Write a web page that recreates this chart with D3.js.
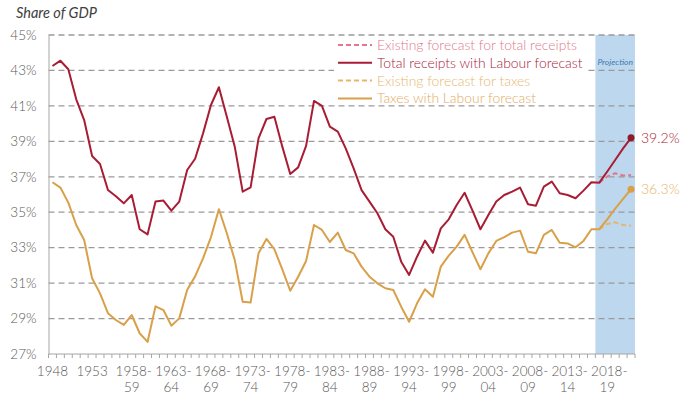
<!DOCTYPE html>
<html>
<head>
<meta charset="utf-8">
<script src="https://cdn.jsdelivr.net/npm/d3@7"></script>
<style>
  body { margin: 0; background: #fff; }
  svg { display: block; font-family: Lato, "DejaVu Sans", sans-serif; }
</style>
</head>
<body>
<div id="chart"></div>
<script>
// financial years shown on the x axis
var years = ["1948", "1949", "1950", "1951", "1952", "1953", "1954", "1955", "1956", "1957",
    "1958-59", "1959-60", "1960-61", "1961-62", "1962-63", "1963-64", "1964-65", "1965-66", "1966-67", "1967-68",
    "1968-69", "1969-70", "1970-71", "1971-72", "1972-73", "1973-74", "1974-75", "1975-76", "1976-77", "1977-78",
    "1978-79", "1979-80", "1980-81", "1981-82", "1982-83", "1983-84", "1984-85", "1985-86", "1986-87", "1987-88",
    "1988-89", "1989-90", "1990-91", "1991-92", "1992-93", "1993-94", "1994-95", "1995-96", "1996-97", "1997-98",
    "1998-99", "1999-00", "2000-01", "2001-02", "2002-03", "2003-04", "2004-05", "2005-06", "2006-07", "2007-08",
    "2008-09", "2009-10", "2010-11", "2011-12", "2012-13", "2013-14", "2014-15", "2015-16", "2016-17", "2017-18",
    "2018-19", "2019-20", "2020-21", "2021-22"];

var tickYears = ["1948", "1953", "1958-59", "1963-64", "1968-69", "1973-74", "1978-79", "1983-84",
    "1988-89", "1993-94", "1998-99", "2003-04", "2008-09", "2013-14", "2018-19"];

var yTicks = [27, 29, 31, 33, 35, 37, 39, 41, 43, 45];

// total receipts, % of GDP (history up to 2017-18)
var receipts = [43.25, 43.55, 43.07, 41.37, 40.2, 38.17, 37.72, 36.25, 35.9, 35.5,
    35.97, 34.04, 33.75, 35.6, 35.66, 35.09, 35.6, 37.38, 38.02, 39.45,
    41.05, 42.05, 40.39, 38.7, 36.16, 36.4, 39.17, 40.26, 40.39, 38.7,
    37.16, 37.53, 38.74, 41.28, 41.0, 39.83, 39.55, 38.6, 37.47, 36.25,
    35.6, 34.94, 34.04, 33.62, 32.21, 31.46, 32.49, 33.4, 32.72, 34.09,
    34.6, 35.41, 36.1, 35.09, 34.04, 34.84, 35.6, 35.97, 36.16, 36.39,
    35.45, 35.37, 36.44, 36.73, 36.07, 35.97, 35.79, 36.22, 36.69, 36.67];

// taxes, % of GDP (history up to 2017-18)
var taxes = [36.69, 36.39, 35.54, 34.28, 33.43, 31.27, 30.42, 29.3, 28.92, 28.64,
    29.2, 28.17, 27.68, 29.69, 29.48, 28.6, 29.01, 30.63, 31.38, 32.4,
    33.6, 35.17, 33.81, 32.3, 29.95, 29.9, 32.68, 33.49, 32.91, 31.78,
    30.57, 31.36, 32.25, 34.28, 34.0, 33.32, 33.85, 32.87, 32.68, 31.93,
    31.36, 30.99, 30.71, 30.61, 29.67, 28.82, 29.86, 30.65, 30.23, 31.93,
    32.55, 33.06, 33.72, 32.74, 31.78, 32.68, 33.38, 33.59, 33.85, 33.96,
    32.77, 32.68, 33.72, 34.0, 33.28, 33.24, 33.02, 33.38, 34.04, 34.04];

// projections, 2017-18 to 2021-22
var receiptsExisting = [36.67, 37.02, 37.2, 37.07, 37.1];
var receiptsLabour = [36.67, 37.3, 37.95, 38.6, 39.2];
var taxesExisting = [34.04, 34.34, 34.43, 34.28, 34.24];
var taxesLabour = [34.04, 34.6, 35.2, 35.75, 36.3];

var w = 682;
var h = 397;
var padLeft = 48.5, padRight = 635, padTop = 35, padBottom = 354;

var red = "#a81d33";
var redLight = "#e2778b";
var gold = "#d9a04a";
var goldLight = "#e6b56a";

var svg = d3.select("#chart").append("svg").attr("width", w).attr("height", h);

var xScale = d3.scaleBand().domain(years).range([padLeft, padRight]).padding(0);
var yScale = d3.scaleLinear().domain([27, 45]).range([padBottom, padTop]);

function cx(d) { return xScale(d) + xScale.bandwidth() / 2; }

// projection shading
var projStart = years.length - receiptsLabour.length;
svg.append("rect")
    .attr("x", xScale(years[projStart]))
    .attr("y", padTop)
    .attr("width", padRight - xScale(years[projStart]))
    .attr("height", padBottom - padTop)
    .attr("fill", "#bdd7ee");

svg.append("text")
    .attr("x", (xScale(years[projStart]) + padRight) / 2)
    .attr("y", 65)
    .attr("text-anchor", "middle")
    .attr("font-size", "8.5px")
    .attr("font-style", "italic")
    .attr("fill", "#3f77b0")
    .text("Projection");

// gridlines
svg.append("g").selectAll("line")
    .data(yTicks.slice(1))
    .enter()
    .append("line")
    .attr("x1", padLeft)
    .attr("x2", padRight)
    .attr("y1", function (d) { return yScale(d); })
    .attr("y2", function (d) { return yScale(d); })
    .attr("stroke", "#9a9a9a")
    .attr("stroke-width", 1.3)
    .attr("stroke-dasharray", "6,4");

// y axis
var yAxis = d3.axisLeft(yScale).tickValues(yTicks).tickSize(0).tickPadding(12)
    .tickFormat(function (d) { return d + "%"; });
var gy = svg.append("g").attr("transform", "translate(" + padLeft + ",0)").call(yAxis);
gy.select(".domain").attr("stroke", "#a6a6a6");
gy.selectAll("text").attr("font-size", "13.5px").attr("fill", "#595959")
    .attr("font-family", "Lato, sans-serif").attr("font-weight", 300);

// x axis: ticks on the band edges, labels every fifth year
var gx = svg.append("g");
gx.append("line")
    .attr("x1", padLeft).attr("x2", padRight)
    .attr("y1", padBottom).attr("y2", padBottom)
    .attr("stroke", "#a6a6a6");
gx.selectAll("line.tick")
    .data(years.concat(["end"]))
    .enter()
    .append("line")
    .attr("class", "tick")
    .attr("x1", function (d) { return d === "end" ? padRight : xScale(d); })
    .attr("x2", function (d) { return d === "end" ? padRight : xScale(d); })
    .attr("y1", padBottom)
    .attr("y2", padBottom + 4)
    .attr("stroke", "#a6a6a6");

var labels = gx.selectAll("text")
    .data(tickYears)
    .enter()
    .append("text")
    .attr("text-anchor", "middle")
    .attr("font-size", "13.5px")
    .attr("font-weight", 300)
    .attr("fill", "#595959");
labels.each(function (d) {
    var t = d3.select(this);
    var parts = d.split("-");
    if (parts.length === 1) {
        t.append("tspan").attr("x", cx(d)).attr("y", 376).text(d);
    } else {
        t.append("tspan").attr("x", cx(d) + 2).attr("y", 376).text(parts[0] + "-");
        t.append("tspan").attr("x", cx(d)).attr("y", 392).text(parts[1]);
    }
});

// lines
var line = d3.line()
    .x(function (d) { return cx(d.year); })
    .y(function (d) { return yScale(d.value); });

function toPoints(values, offset) {
    return values.map(function (v, i) { return { year: years[offset + i], value: v }; });
}

var series = [
    { pts: toPoints(receiptsExisting, projStart), color: redLight, dash: "5,3" },
    { pts: toPoints(taxesExisting, projStart), color: goldLight, dash: "5,3" },
    { pts: toPoints(taxes, 0).concat(toPoints(taxesLabour, projStart).slice(1)), color: gold, dash: null },
    { pts: toPoints(receipts, 0).concat(toPoints(receiptsLabour, projStart).slice(1)), color: red, dash: null }
];

svg.append("g").selectAll("path")
    .data(series)
    .enter()
    .append("path")
    .attr("d", function (d) { return line(d.pts); })
    .attr("fill", "none")
    .attr("stroke", function (d) { return d.color; })
    .attr("stroke-width", 2)
    .attr("stroke-linejoin", "round")
    .attr("stroke-dasharray", function (d) { return d.dash; });

// end points and labels
var last = years[years.length - 1];
var ends = [
    { value: receiptsLabour[receiptsLabour.length - 1], dot: "#8e1b2c", text: red },
    { value: taxesLabour[taxesLabour.length - 1], dot: gold, text: goldLight }
];
svg.selectAll("circle.end")
    .data(ends)
    .enter()
    .append("circle")
    .attr("cx", cx(last))
    .attr("cy", function (d) { return yScale(d.value); })
    .attr("r", 3.5)
    .attr("fill", function (d) { return d.dot; });
svg.selectAll("text.end")
    .data(ends)
    .enter()
    .append("text")
    .attr("class", "end")
    .attr("x", 641)
    .attr("y", function (d) { return yScale(d.value) + 5; })
    .attr("font-size", "14px")
    .attr("font-weight", 300)
    .attr("fill", function (d) { return d.text; })
    .text(function (d) { return d.value.toFixed(1) + "%"; });

// legend
var legendItems = ["Existing forecast for total receipts", "Total receipts with Labour forecast",
    "Existing forecast for taxes", "Taxes with Labour forecast"];
var legendColors = [redLight, red, goldLight, gold];
var legendText = ["#e07a8c", "#a8203a", "#e8b872", "#e2ab62"];
var legendDash = ["5,3", null, "5,3", null];

svg.append("rect")
    .attr("x", 334).attr("y", 37)
    .attr("width", 254).attr("height", 68)
    .attr("fill", "#fff");

var legend = svg.selectAll(".legend")
    .data(legendItems)
    .enter()
    .append("g")
    .attr("class", "legend")
    .attr("transform", function (d, i) { return "translate(338," + (45 + i * 17.8) + ")"; });
legend.append("line")
    .attr("x1", 0).attr("x2", 34)
    .attr("stroke", function (d, i) { return legendColors[i]; })
    .attr("stroke-width", 2)
    .attr("stroke-dasharray", function (d, i) { return legendDash[i]; });
legend.append("text")
    .attr("x", 39)
    .attr("y", 5)
    .attr("font-size", "13.9px")
    .attr("font-weight", 300)
    .attr("fill", function (d, i) { return legendText[i]; })
    .text(function (d) { return d; });

svg.append("text")
    .attr("x", 16)
    .attr("y", 18)
    .attr("font-size", "14.5px")
    .attr("font-style", "italic")
    .attr("fill", "#404040")
    .text("Share of GDP");
</script>
</body>
</html>
